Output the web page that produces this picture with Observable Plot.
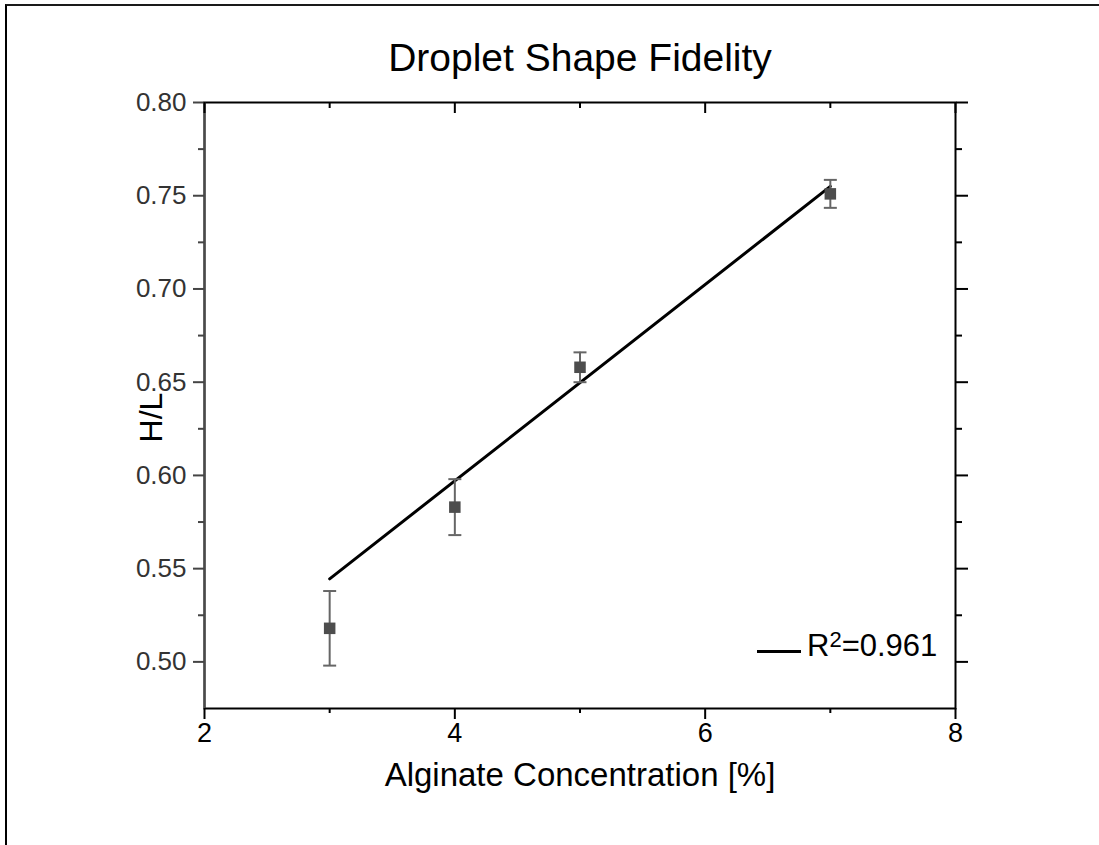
<!DOCTYPE html>
<html><head><meta charset="utf-8">
<script src="https://cdn.jsdelivr.net/npm/d3@7"></script>
<script src="https://cdn.jsdelivr.net/npm/@observablehq/plot@0.6"></script>
<style>
html,body{margin:0;padding:0;background:#fff;overflow:hidden;}
#wrap{position:relative;width:1099px;height:845px;font-family:"Liberation Sans",Arial,sans-serif;}
#border{position:absolute;left:5px;top:4px;width:1200px;height:1000px;border-left:2px solid #000;border-top:2px solid #1a1a1a;pointer-events:none;}
#legline{position:absolute;left:757px;top:650px;width:44px;height:3px;background:#000;}
#legtext{position:absolute;left:807px;top:630px;font-size:31px;line-height:31px;color:#000;white-space:nowrap;}
#legtext .sup{font-size:22px;position:relative;top:-9px;}
svg{display:block;}
</style>
</head><body>
<div id="wrap"><div id="border"></div></div>
<script>
// ---- data ----
const concentration = [3, 4, 5, 7];
const ratioHL = [0.518, 0.583, 0.658, 0.751];
const ratioErr = [0.020, 0.015, 0.008, 0.0075];
const fitX = [3, 7];
const fitY = [0.5445, 0.755];
const xTicksMajor = [2, 4, 6, 8];
const xTicksMinor = [3, 5, 7];
const yTicksMajor = [0.50, 0.55, 0.60, 0.65, 0.70, 0.75, 0.80];
const yTicksMinor = [0.525, 0.575, 0.625, 0.675, 0.725, 0.775];
const titleText = "Droplet Shape Fidelity";
const xLabel = "Alginate Concentration [%]";
const yLabel = "H/L";
const r2Text = "0.961";

const points = concentration.map((x, i) => ({x, y: ratioHL[i], lo: ratioHL[i] - ratioErr[i], hi: ratioHL[i] + ratioErr[i]}));
const fit = fitX.map((x, i) => ({x, y: fitY[i]}));

const W = 1099, H = 845, mL = 204, mR = 144, mT = 102, mB = 137;
const frameH = H - mT - mB;

const capSymbol = {draw(ctx) { ctx.moveTo(-6.5, 0); ctx.lineTo(6.5, 0); }};

const chart = Plot.plot({
  width: W, height: H,
  marginLeft: mL, marginRight: mR, marginTop: mT, marginBottom: mB,
  style: {fontFamily: '"Liberation Sans", Arial, sans-serif', background: "transparent", overflow: "visible"},
  x: {domain: [2, 8]},
  y: {domain: [0.475, 0.80]},
  marks: [
    Plot.frame({stroke: "black", strokeWidth: 2}),
    Plot.ruleX([2], {stroke: "#4a4a4a", strokeWidth: 2}),
    // left axis
    Plot.axisY(yTicksMajor, {anchor: "left", tickSize: 11, tickPadding: 7, strokeWidth: 2, stroke: "#444", fill: "#333", fontSize: 26, tickFormat: d3.format(".2f"), label: null}),
    Plot.axisY(yTicksMinor, {anchor: "left", tickSize: 6, strokeWidth: 2, stroke: "#444", tickFormat: () => "", label: null}),
    // right axis
    Plot.axisY(yTicksMajor, {anchor: "right", tickSize: 12, strokeWidth: 2, stroke: "black", tickFormat: () => "", label: null}),
    Plot.axisY(yTicksMinor, {anchor: "right", tickSize: 6, strokeWidth: 2, stroke: "black", tickFormat: () => "", label: null}),
    // bottom axis
    Plot.axisX(xTicksMajor, {anchor: "bottom", tickSize: 11, tickPadding: 3, strokeWidth: 2, stroke: "black", fill: "black", fontSize: 27, tickFormat: d3.format("d"), label: null}),
    Plot.axisX(xTicksMinor, {anchor: "bottom", tickSize: 5, strokeWidth: 2, stroke: "black", tickFormat: () => "", label: null}),
    // top axis (inward ticks)
    Plot.tickX(xTicksMajor, {x: d => d, insetBottom: frameH - 11, stroke: "black", strokeWidth: 2}),
    Plot.tickX(xTicksMinor, {x: d => d, insetBottom: frameH - 6, stroke: "black", strokeWidth: 2}),
    // fit line
    Plot.line(fit, {x: "x", y: "y", stroke: "black", strokeWidth: 3}),
    // error bars
    Plot.ruleX(points, {x: "x", y1: "lo", y2: "hi", stroke: "#666", strokeWidth: 2}),
    Plot.dot(points, {x: "x", y: "lo", symbol: capSymbol, stroke: "#666", strokeWidth: 2, fill: "none"}),
    Plot.dot(points, {x: "x", y: "hi", symbol: capSymbol, stroke: "#666", strokeWidth: 2, fill: "none"}),
    Plot.dot(points, {x: "x", y: "y", symbol: "square", r: 6.5, fill: "#4d4d4d", stroke: "none"}),
    // titles
    Plot.text([titleText], {frameAnchor: "top", dy: -44, fontSize: 39, textAnchor: "middle", lineAnchor: "middle", fill: "black"}),
    Plot.text([xLabel], {frameAnchor: "bottom", dy: 67, fontSize: 33, textAnchor: "middle", lineAnchor: "middle", fill: "black"}),
    Plot.text([yLabel], {frameAnchor: "left", dx: -53, dy: 12, rotate: -90, fontSize: 32, textAnchor: "middle", lineAnchor: "middle", fill: "black"})
  ]
});

const wrap = document.getElementById("wrap");
wrap.insertBefore(chart, wrap.firstChild);
const legLine = document.createElement("div");
legLine.id = "legline";
wrap.appendChild(legLine);
const legText = document.createElement("div");
legText.id = "legtext";
legText.innerHTML = 'R<span class="sup">2</span>=' + r2Text;
wrap.appendChild(legText);
</script>
</body></html>
